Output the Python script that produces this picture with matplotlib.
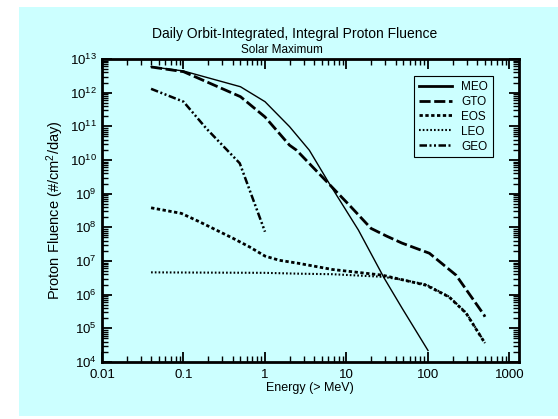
import matplotlib
matplotlib.use("Agg")
import matplotlib.pyplot as plt
from matplotlib.patches import Rectangle
import matplotlib.ticker as mticker

plt.rcParams['font.family'] = ['Liberation Sans', 'DejaVu Sans']
plt.rcParams['mathtext.fontset'] = 'custom'
plt.rcParams['mathtext.rm'] = 'Liberation Sans'
plt.rcParams['mathtext.it'] = 'Liberation Sans:italic'
plt.rcParams['mathtext.bf'] = 'Liberation Sans:bold'

# ---- data (energy in MeV, fluence in #/cm^2/day) ----
meo_e = [0.04, 0.1, 0.5, 1, 2, 3.5, 6, 14, 29, 48, 100]
meo_f = [5.9e12, 4.4e12, 1.5e12, 5.4e11, 9.8e10, 1.95e10, 2.2e9, 8.3e7, 3.1e6, 4.0e5, 2.2e4]

gto_e = [0.04, 0.1, 0.5, 1, 2, 2.44, 5.8, 10.8, 20, 31, 48, 104, 221, 487, 500]
gto_f = [5.8e12, 4.2e12, 7.6e11, 1.9e11, 2.75e10, 1.95e10, 2.2e9, 4.6e8, 9.3e7, 5.5e7, 3.4e7, 1.7e7, 3.8e6, 2.5e5, 2.2e5]

eos_e = [0.04, 0.094, 0.158, 0.4, 0.65, 1.0, 1.5, 2.6, 6.7, 27.5, 95, 182, 294, 500]
eos_f = [3.8e8, 2.6e8, 1.45e8, 4.8e7, 2.6e7, 1.4e7, 1.05e7, 8.5e6, 5.6e6, 3.8e6, 1.9e6, 8.5e5, 2.8e5, 3.6e4]

leo_e = [0.04, 0.1, 1, 2.6, 6.7, 27.5, 48, 95, 182, 294, 500]
leo_f = [4.6e6, 4.55e6, 4.45e6, 4.2e6, 4.05e6, 3.4e6, 2.8e6, 2.0e6, 8.7e5, 2.9e5, 3.7e4]

geo_e = [0.04, 0.1, 0.19, 0.49, 1.0]
geo_f = [1.3e12, 5.4e11, 8.7e10, 8.0e9, 7.4e7]

x_ticks = [0.01, 0.1, 1, 10, 100, 1000]
x_tick_labels = ["0.01", "0.1", "1", "10", "100", "1000"]

W, H = 558, 419
fig = plt.figure(figsize=(W / 100, H / 100), dpi=100)
fig.patch.set_facecolor('white')
fig.patches.append(Rectangle((19 / W, 3 / H), 1 - 19 / W, 409 / H,
                             transform=fig.transFigure, facecolor='#ccffff',
                             edgecolor='none', zorder=-10))

ax = fig.add_axes([102 / W, (H - 362) / H, (518.5 - 102) / W, (362 - 59) / H])
ax.set_facecolor('#ccffff')
ax.set_xscale('log')
ax.set_yscale('log')
ax.set_xlim(0.01, 1290)
ax.set_ylim(1e4, 1e13)

ax.plot(meo_e, meo_f, color='black', lw=1.0, label='MEO')
ax.plot(gto_e, gto_f, color='black', lw=2.0, dashes=(4, 1.3), label='GTO')
ax.plot(eos_e, eos_f, color='black', lw=2.0, dashes=(1.2, 0.9), label='EOS')
ax.plot(leo_e, leo_f, color='black', lw=1.5, dashes=(0.8, 1.0), label='LEO')
ax.plot(geo_e, geo_f, color='black', lw=1.8, dashes=(3, 1, 0.8, 1, 0.8, 1), label='GEO')

ax.set_xticks(x_ticks)
ax.set_xticklabels(x_tick_labels)
ax.yaxis.set_major_locator(mticker.LogLocator(base=10, numticks=20))
ax.yaxis.set_minor_locator(mticker.LogLocator(base=10, subs=range(2, 10), numticks=20))
ax.xaxis.set_minor_locator(mticker.LogLocator(base=10, subs=range(2, 10), numticks=20))
ax.xaxis.set_minor_formatter(mticker.NullFormatter())
ax.yaxis.set_minor_formatter(mticker.NullFormatter())

ax.tick_params(which='both', direction='in', top=True, right=True, labelsize=9.5, colors='black')
ax.tick_params(which='major', length=7, width=1.3)
ax.tick_params(which='minor', length=4, width=1.0)
ax.tick_params(axis='y', which='major', pad=4)
ax.tick_params(axis='x', which='major', pad=5)
for s in ax.spines.values():
    s.set_linewidth(2)

ax.set_xlabel('Energy (> MeV)', fontsize=9, labelpad=1)
ax.set_ylabel('Proton Fluence (#/cm$^2$/day)', fontsize=10.5)
ax.yaxis.set_label_coords((66 - 102) / (518.5 - 102), 0.5)

fig.text(0.528, 1 - 34 / H, 'Daily Orbit-Integrated, Integral Proton Fluence',
         ha='center', va='center', fontsize=10)
fig.text(0.505, 1 - 50 / H, 'Solar Maximum', ha='center', va='center', fontsize=8.5)

leg = ax.legend(loc='upper left', bbox_to_anchor=((414 - 102) / (518.5 - 102), 1 - (76 - 59) / (362 - 59)),
                fontsize=8.5, frameon=True, fancybox=False, framealpha=1,
                edgecolor='black', facecolor='#ccffff', handlelength=2.8,
                handletextpad=0.8, labelspacing=0.25, borderpad=0.4, borderaxespad=0)
leg.get_frame().set_linewidth(0.8)
leg.get_lines()[0].set_linewidth(2.0)

fig.savefig('out.png', dpi=100, facecolor='white')
